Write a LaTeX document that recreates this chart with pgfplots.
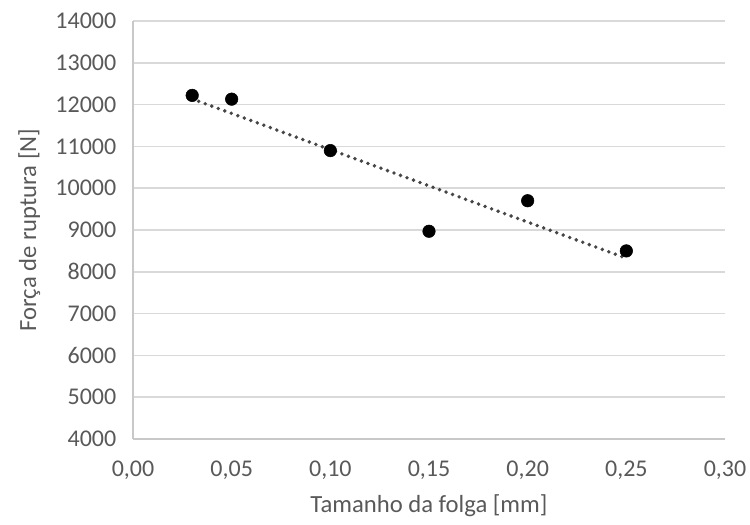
\documentclass[border=0pt]{standalone}
\usepackage{fontspec}
\setmainfont{Carlito}
\usepackage{pgfplots}
\pgfplotsset{compat=1.18}
\definecolor{txt}{RGB}{89,89,89}
\definecolor{grd}{RGB}{217,217,217}
\definecolor{axl}{RGB}{200,200,200}
\definecolor{trend}{RGB}{70,70,70}
\begin{document}
\begin{tikzpicture}[x=1pt,y=1pt]
\useasboundingbox (-99.75,-64.5) rectangle (462.75,329.25);
\begin{axis}[
  at={(0,0)}, anchor=south west,
  scale only axis,
  width=444pt, height=313.5pt,
  xmin=0, xmax=0.30, ymin=4000, ymax=14000,
  xtick={0,0.05,0.10,0.15,0.20,0.25,0.30},
  ytick={4000,5000,...,14000},
  scaled y ticks=false, scaled x ticks=false,
  axis lines*=left,
  axis line style={draw=axl, line width=1.2pt},
  ymajorgrids, grid style={draw=grd, line width=1.2pt},
  major tick length=0pt,
  tick style={draw=none},
  font=\fontsize{18}{20}\selectfont,
  ticklabel style={text=txt, font=\fontsize{18}{20}\selectfont},
  /pgf/number format/assume math mode=true,
  xticklabel style={/pgf/number format/fixed, /pgf/number format/fixed zerofill, /pgf/number format/precision=2, /pgf/number format/use comma},
  yticklabel style={/pgf/number format/fixed, /pgf/number format/1000 sep={}},
  xtick pos=bottom, ytick pos=left,
  yticklabel shift=9pt,
  xticklabel shift=13pt,
  xlabel={Tamanho da folga [mm]},
  ylabel={Força de ruptura [N]},
  label style={text=txt, font=\fontsize{18.5}{21}\selectfont},
  xlabel style={at={(axis description cs:0.5,0)}, anchor=north, yshift=-38pt},
  ylabel style={at={(axis description cs:0,0.5)}, anchor=south, xshift=0pt, yshift=66pt},
  clip=false,
]
\addplot[trend, line width=2.9pt, dash pattern=on 0pt off 5.2pt, line cap=round] coordinates {
  (0.03,12135) (0.25,8324)
};
\addplot[only marks, mark=*, mark size=4.7pt, mark options={fill=black, draw=black}] coordinates {
  (0.03,12220) (0.05,12130) (0.10,10900) (0.15,8970) (0.20,9700) (0.25,8500)
};
\end{axis}
\end{tikzpicture}
\end{document}
